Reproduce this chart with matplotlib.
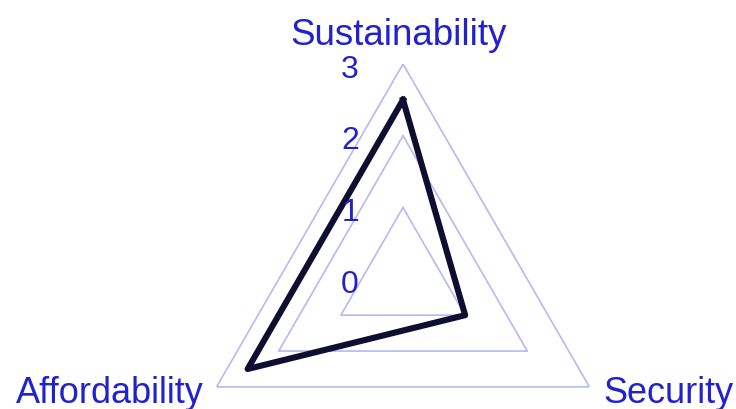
import numpy as np
import matplotlib
matplotlib.use("Agg")
import matplotlib.pyplot as plt

# ---------------------------------------------------------------------------
# Data
# ---------------------------------------------------------------------------
categories = ["Sustainability", "Security", "Affordability"]
values = [2.5, 1.0, 2.5]
levels = [1, 2, 3]
tick_labels = ["0", "1", "2", "3"]

TEXT_COLOR = "#2222cc"
GRID_COLOR = "#b8b8f2"
LINE_COLOR = "#0e0e30"

plt.rcParams["font.family"] = ["Liberation Sans", "DejaVu Sans"]

W, H = 736, 410
fig = plt.figure(figsize=(W / 100, H / 100), dpi=100)

# polar axes placed so that centre and outer radius match the reference
cx, cy, R = 403, 280.3, 215.3
ax = fig.add_axes([(cx - R) / W, (H - cy - R) / H, 2 * R / W, 2 * R / H],
                  projection="polar")
ax.set_theta_offset(np.pi / 2)
ax.set_theta_direction(-1)
ax.set_ylim(0, 3)
ax.grid(False)
ax.set_xticks([])
ax.set_yticks([])
ax.spines["polar"].set_visible(False)
ax.patch.set_alpha(0)

angles = np.linspace(0, 2 * np.pi, len(categories), endpoint=False)
closed = np.append(angles, angles[0])

# triangular grid
for lvl in levels:
    ax.plot(closed, [lvl] * len(closed), color=GRID_COLOR, lw=1.2, zorder=1)

# data polygon
ax.plot(closed, values + values[:1], color=LINE_COLOR, lw=4.4,
        solid_joinstyle="round", zorder=3)

# radial tick labels along the top axis
for i, lab in enumerate(tick_labels):
    ax.annotate(lab, xy=(0, i), xytext=(-53, -1), textcoords="offset pixels",
                ha="center", va="center_baseline", fontsize=23,
                color=TEXT_COLOR, zorder=4, annotation_clip=False)

# category labels
fig.text(398 / W, (H - 45) / H, categories[0], ha="center", va="baseline",
         fontsize=26.5, color=TEXT_COLOR)
fig.text(603 / W, (H - 403) / H, categories[1], ha="left", va="baseline",
         fontsize=26, color=TEXT_COLOR)
fig.text(16 / W, (H - 403) / H, categories[2], ha="left", va="baseline",
         fontsize=26, color=TEXT_COLOR)

fig.savefig("out.png", dpi=100)
